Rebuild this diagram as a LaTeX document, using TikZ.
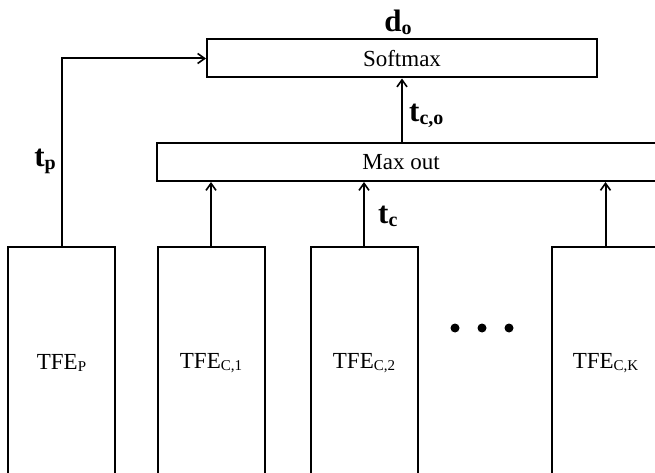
\documentclass[tikz,border=0pt]{standalone}
\usepackage{fontspec}
\setmainfont{Liberation Serif}
\usetikzlibrary{arrows.meta}

% bold vector with bold subscript
\newcommand{\tvec}[2]{{\fontsize{31}{31}\selectfont\bfseries #1\raisebox{-3pt}{\fontsize{20}{20}\selectfont #2}}}
% feature extractor label
\newcommand{\tfe}[1]{TFE\raisebox{-2pt}{\fontsize{15}{15}\selectfont #1}}

\begin{document}
\begin{tikzpicture}[x=1pt, y=-1pt,
  layer/.style={draw, line width=2pt, minimum height=38pt, inner sep=0pt},
  block/.style={draw, line width=2pt, minimum width=107pt, minimum height=232pt, inner sep=0pt, font=\fontsize{23}{27}\selectfont},
  txt/.style={inner sep=0pt, font=\fontsize{23}{27}\selectfont},
  conn/.style={-{Straight Barb[length=7pt,width=10pt,line width=1.6pt]}, line width=2pt},
  lab/.style={inner sep=0pt},
  dot/.style={circle, fill, minimum size=9pt, inner sep=0pt},
]
  \useasboundingbox (0,0) rectangle (655,473);

  % top layers
  \node[layer, minimum width=390pt, txt] (softmax) at (402,58.5) {Softmax};
  \node[layer, minimum width=510pt] (maxout) at (412,162) {};
  \node[txt] (maxtxt) at (401,162) {Max out};

  % feature extractors
  \node[block] (p) at (61.5,363) {\tfe{P}};
  \foreach \n/\x in {1/211, 2/364, K/605.5} {
    \node[block] (c\n) at (\x,363) {\tfe{C,\n}};
    \draw[conn] (c\n.north) -- (c\n.north |- maxout.south);
  }
  \foreach \x in {455,482,509}
    \node[dot] (dot\x) at (\x,328) {};

  \draw[conn] (softmax.south |- maxout.north) -- (softmax.south);
  \draw[conn] (p.north) |- (softmax.west);

  % labels
  \node[lab] (do) at (398,22) {\tvec{d}{o}};
  \node[lab, anchor=west] (tco) at (409,116) {\tvec{t}{c,o}};
  \node[lab, anchor=west] (tc) at (378,216) {\tvec{t}{c}};
  \node[lab] (tp) at (45,161) {\tvec{t}{p}};
\end{tikzpicture}
\end{document}
